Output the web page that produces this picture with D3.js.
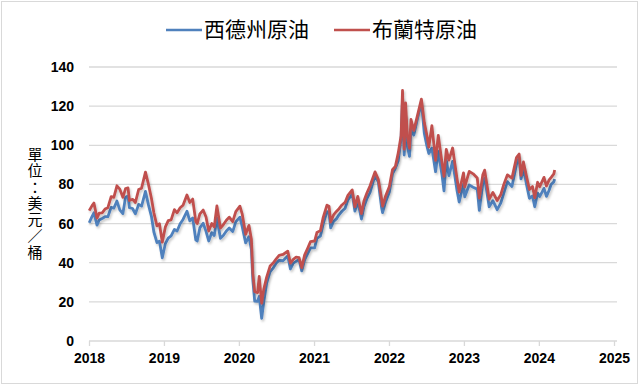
<!DOCTYPE html>
<html>
<head>
<meta charset="utf-8">
<script src="https://d3js.org/d3.v7.min.js"></script>
<style>
  body { margin: 0; background: #fff; }
  svg { display: block; }
</style>
</head>
<body>
<script>
var dates = [
  "2018-01-02","2018-01-16","2018-01-25","2018-02-09","2018-02-20","2018-03-06","2018-03-20","2018-04-03","2018-04-19","2018-05-02",
  "2018-05-17","2018-05-31","2018-06-15","2018-06-28","2018-07-10","2018-07-17","2018-08-01","2018-08-15","2018-08-31","2018-09-14",
  "2018-10-03","2018-10-17","2018-11-01","2018-11-13","2018-11-28","2018-12-10","2018-12-24","2019-01-08","2019-01-22","2019-02-05",
  "2019-02-21","2019-03-06","2019-03-21","2019-04-04","2019-04-23","2019-05-07","2019-05-21","2019-06-05","2019-06-12","2019-06-25",
  "2019-07-11","2019-07-25","2019-08-07","2019-08-22","2019-09-03","2019-09-16","2019-10-03","2019-10-17","2019-11-01","2019-11-15",
  "2019-12-02","2019-12-17","2020-01-06","2020-01-17","2020-02-03","2020-02-19","2020-03-02","2020-03-09","2020-03-18","2020-04-01",
  "2020-04-09","2020-04-21","2020-05-01","2020-05-15","2020-06-01","2020-06-15","2020-07-01","2020-07-15","2020-08-03","2020-08-26",
  "2020-09-08","2020-09-22","2020-10-06","2020-10-20","2020-11-02","2020-11-16","2020-12-01","2020-12-15","2021-01-04","2021-01-15",
  "2021-02-01","2021-02-15","2021-03-05","2021-03-15","2021-03-23","2021-04-06","2021-04-20","2021-05-03","2021-05-17","2021-06-01",
  "2021-06-15","2021-07-06","2021-07-19","2021-08-02","2021-08-20","2021-09-01","2021-09-15","2021-10-01","2021-10-25","2021-11-10",
  "2021-11-26","2021-12-01","2021-12-15","2022-01-03","2022-01-18","2022-02-01","2022-02-15","2022-03-01","2022-03-08","2022-03-16",
  "2022-03-23","2022-04-01","2022-04-11","2022-04-18","2022-05-02","2022-05-17","2022-06-08","2022-06-22","2022-07-05","2022-07-14",
  "2022-07-29","2022-08-16","2022-08-29","2022-09-16","2022-09-26","2022-10-07","2022-10-20","2022-11-07","2022-11-28","2022-12-09",
  "2022-12-30","2023-01-05","2023-01-27","2023-02-15","2023-03-07","2023-03-17","2023-04-03","2023-04-12","2023-05-04","2023-05-22",
  "2023-06-12","2023-06-30","2023-07-14","2023-08-01","2023-08-23","2023-09-14","2023-09-27","2023-10-06","2023-10-18","2023-11-01",
  "2023-11-16","2023-12-01","2023-12-12","2023-12-26","2024-01-05","2024-01-26","2024-02-07","2024-02-20","2024-03-01","2024-03-14",
  "2024-03-18"
];

// WTI, USD per barrel
var wtiPrices = [
  60.4,63.7,65.5,59.2,61.8,62.6,63.5,63.5,68.3,67.9,
  71.5,67.0,65.1,73.5,74.1,68.1,67.7,65.0,69.8,68.9,
  76.4,69.8,63.7,55.7,50.3,51.0,42.5,49.8,52.6,53.7,
  57.0,56.2,59.9,62.1,66.3,61.4,62.9,51.7,51.1,57.8,
  60.2,56.0,51.1,55.4,53.9,62.9,52.5,53.9,56.2,57.7,
  55.9,60.9,63.3,58.5,50.1,53.3,46.8,31.1,20.4,20.3,
  22.8,11.6,19.8,29.4,35.4,37.1,39.8,41.2,41.0,43.4,
  36.8,39.8,40.7,41.5,35.8,41.4,44.6,47.6,47.6,52.4,
  53.6,60.0,66.1,65.4,57.8,61.1,62.4,64.5,66.3,67.7,
  72.1,75.2,66.4,71.3,62.3,68.6,72.6,75.9,84.6,81.3,
  68.2,65.6,70.9,76.1,85.4,88.2,92.1,103.4,123.7,95.0,
  114.9,99.3,94.3,108.2,105.2,112.4,122.1,106.2,99.5,95.8,
  98.6,86.5,97.0,85.1,76.7,92.6,84.5,91.8,77.2,71.0,
  80.3,73.7,79.7,78.6,77.6,66.7,80.4,83.3,68.6,71.7,
  67.1,70.6,75.4,81.4,78.9,90.2,93.7,82.8,88.3,80.4,
  72.9,74.1,68.6,75.6,73.8,78.0,73.9,77.0,80.0,81.3,
  82.7
];

// Brent, USD per barrel
var brentPrices = [
  66.6,69.2,70.5,62.8,65.3,65.5,67.4,68.1,73.8,73.4,
  79.3,77.6,73.4,77.9,78.2,71.8,72.4,70.8,77.4,78.1,
  86.3,80.3,72.9,65.5,58.8,59.9,50.5,58.3,61.5,61.9,
  67.1,65.5,68.1,69.4,74.6,70.8,72.5,61.1,60.0,64.9,
  66.9,63.4,56.2,60.0,58.3,69.0,57.7,59.4,61.7,63.3,
  61.0,66.1,68.9,65.0,54.5,59.1,52.0,34.4,25.2,24.7,
  33.0,19.3,26.4,32.5,38.3,39.7,42.0,43.8,44.2,45.9,
  39.8,41.7,42.9,42.6,37.5,43.9,47.4,50.8,51.1,55.4,
  56.4,63.3,69.4,68.9,60.8,64.4,66.2,67.6,69.5,70.8,
  74.4,77.2,68.6,73.9,65.1,71.6,75.5,79.3,86.4,82.6,
  72.7,68.9,73.9,78.9,87.5,89.2,96.0,104.9,128.0,98.0,
  121.6,104.4,98.5,113.2,107.6,114.0,123.6,111.7,105.0,99.1,
  110.0,92.3,105.1,91.4,84.1,97.9,92.4,98.6,83.2,76.1,
  85.9,78.7,86.7,85.4,83.3,73.0,84.9,87.3,72.5,75.9,
  71.8,74.9,79.9,84.9,83.2,93.7,95.5,84.6,91.5,84.6,
  77.4,78.9,73.2,81.1,78.8,83.6,79.2,82.3,83.6,85.4,
  87.4
];

var yearTicks = [2018, 2019, 2020, 2021, 2022, 2023, 2024, 2025];
var priceTicks = [0, 20, 40, 60, 80, 100, 120, 140];
var seriesNames = ["西德州原油", "布蘭特原油"];
var seriesColors = ["#4f81bd", "#c0504d"];
var yTitle = "單位：美元／桶";

var width = 640, height = 386;
var parseDate = d3.timeParse("%Y-%m-%d");

var svg = d3.select("body")
  .append("svg")
  .attr("width", width)
  .attr("height", height);

// soft shadow under the lines, like the spreadsheet effect
var filter = svg.append("defs").append("filter")
  .attr("id", "shadow")
  .attr("x", "-5%").attr("y", "-5%")
  .attr("width", "110%").attr("height", "120%");
filter.append("feDropShadow")
  .attr("dx", 1.2)
  .attr("dy", 2)
  .attr("stdDeviation", 1.2)
  .attr("flood-color", "#000")
  .attr("flood-opacity", 0.22);

// chart frame
svg.append("rect")
  .attr("x", 1.5)
  .attr("y", 1.5)
  .attr("width", 636)
  .attr("height", 382)
  .attr("fill", "#fff")
  .attr("stroke", "#d9d9d9")
  .attr("stroke-width", 1);

var xScale = d3.scaleTime()
  .domain([new Date(yearTicks[0], 0, 1), new Date(yearTicks[yearTicks.length - 1], 0, 1)])
  .range([89, 614]);

var yScale = d3.scaleLinear()
  .domain([0, 140])
  .range([341, 67]);

// horizontal gridlines
svg.append("g")
  .selectAll("line")
  .data(priceTicks.slice(1))
  .enter()
  .append("line")
  .attr("x1", 89)
  .attr("x2", 617)
  .attr("y1", function(d) { return yScale(d); })
  .attr("y2", function(d) { return yScale(d); })
  .attr("stroke", "#d9d9d9")
  .attr("stroke-width", 1.3);

// y-axis labels (no axis line)
var yAxis = svg.append("g")
  .attr("transform", "translate(89,0)")
  .call(d3.axisLeft(yScale).tickValues(priceTicks).tickSize(0).tickPadding(15));
yAxis.select(".domain").remove();
yAxis.selectAll("text")
  .style("font-family", "'Liberation Sans', Arial, sans-serif")
  .style("font-weight", "bold")
  .style("font-size", "14px")
  .attr("fill", "#000");

// x-axis
var xAxis = svg.append("g")
  .attr("transform", "translate(0,341)")
  .call(d3.axisBottom(xScale)
    .tickValues(yearTicks.map(function(y) { return new Date(y, 0, 1); }))
    .tickFormat(d3.timeFormat("%Y"))
    .tickSize(5)
    .tickSizeOuter(0)
    .tickPadding(7));
xAxis.select(".domain")
  .attr("stroke", "#d9d9d9")
  .attr("stroke-width", 1.3)
  .attr("d", "M89,0H617");
xAxis.selectAll(".tick line")
  .attr("stroke", "#d9d9d9")
  .attr("stroke-width", 1.3);
xAxis.selectAll("text")
  .style("font-family", "'Liberation Sans', Arial, sans-serif")
  .style("font-weight", "bold")
  .style("font-size", "14px")
  .attr("fill", "#000");

// lines
var series = [wtiPrices, brentPrices];
var line = d3.line()
  .x(function(d, i) { return xScale(parseDate(dates[i])); })
  .y(function(d) { return yScale(d); });

series.forEach(function(values, k) {
  svg.append("path")
    .datum(values)
    .attr("fill", "none")
    .attr("stroke", seriesColors[k])
    .attr("stroke-width", 2.8)
    .attr("stroke-linejoin", "round")
    .attr("filter", "url(#shadow)")
    .attr("d", line);
});

// legend
var legendX = [166, 334];
seriesNames.forEach(function(name, k) {
  svg.append("line")
    .attr("x1", legendX[k])
    .attr("x2", legendX[k] + 36)
    .attr("y1", 30)
    .attr("y2", 30)
    .attr("stroke", seriesColors[k])
    .attr("stroke-width", 2.4);
  svg.append("text")
    .attr("x", legendX[k] + 38)
    .attr("y", 30)
    .attr("dy", "0.35em")
    .style("font-family", "'Noto Sans CJK TC', sans-serif")
    .style("font-size", "21px")
    .attr("fill", "#000")
    .text(name);
});

// y-axis title, written vertically
svg.append("text")
  .attr("x", 35)
  .attr("y", 204)
  .attr("text-anchor", "middle")
  .style("writing-mode", "vertical-rl")
  .style("text-orientation", "upright")
  .style("letter-spacing", "1.3px")
  .style("font-family", "'Noto Sans CJK TC', sans-serif")
  .style("font-size", "15px")
  .attr("fill", "#000")
  .text(yTitle);
</script>
</body>
</html>
